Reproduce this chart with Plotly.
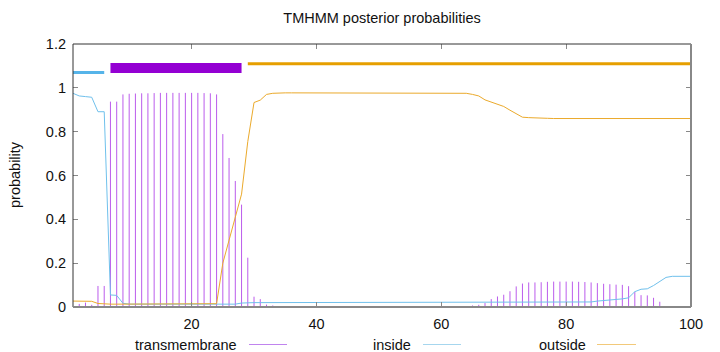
import plotly.graph_objects as go

# ---------------- data ----------------
positions = list(range(1, 101))

transmembrane = [
    0.000, 0.014, 0.020, 0.010, 0.096, 0.096, 0.937, 0.937, 0.970, 0.973,
    0.974, 0.975, 0.975, 0.976, 0.977, 0.977, 0.977, 0.977, 0.977, 0.977,
    0.977, 0.976, 0.975, 0.970, 0.789, 0.680, 0.575, 0.467, 0.225, 0.047,
    0.036, 0.011, 0.007, 0.004, 0.003, 0.002, 0.002, 0.002, 0.002, 0.002,
    0.002, 0.002, 0.002, 0.002, 0.002, 0.002, 0.001, 0.001, 0.001, 0.001,
    0.001, 0.001, 0.001, 0.001, 0.001, 0.001, 0.001, 0.001, 0.001, 0.001,
    0.002, 0.003, 0.003, 0.004, 0.007, 0.010, 0.018, 0.036, 0.048, 0.056,
    0.072, 0.094, 0.107, 0.112, 0.112, 0.113, 0.115, 0.116, 0.116, 0.116,
    0.116, 0.115, 0.114, 0.112, 0.109, 0.106, 0.104, 0.102, 0.101, 0.095,
    0.069, 0.054, 0.053, 0.042, 0.024, 0.003, 0.000, 0.000, 0.000, 0.000,
]

inside = [
    0.975, 0.963, 0.960, 0.957, 0.891, 0.891, 0.055, 0.053, 0.017, 0.013,
    0.013, 0.013, 0.013, 0.013, 0.013, 0.013, 0.013, 0.013, 0.013, 0.013,
    0.013, 0.013, 0.013, 0.013, 0.013, 0.013, 0.013, 0.018, 0.020, 0.020,
    0.020, 0.020, 0.020, 0.020, 0.020, 0.020, 0.020, 0.020, 0.020, 0.020,
    0.022, 0.023, 0.023, 0.023, 0.023, 0.023, 0.023, 0.023, 0.023, 0.023,
    0.023, 0.023, 0.023, 0.023, 0.023, 0.023, 0.023, 0.023, 0.023, 0.023,
    0.023, 0.023, 0.023, 0.023, 0.023, 0.023, 0.023, 0.023, 0.023, 0.023,
    0.023, 0.023, 0.023, 0.023, 0.023, 0.023, 0.023, 0.023, 0.023, 0.023,
    0.023, 0.023, 0.023, 0.023, 0.027, 0.029, 0.031, 0.034, 0.037, 0.042,
    0.070, 0.081, 0.083, 0.098, 0.118, 0.135, 0.140, 0.140, 0.140, 0.140,
]

outside = [
    0.027, 0.027, 0.027, 0.026, 0.016, 0.013, 0.013, 0.013, 0.013, 0.013,
    0.013, 0.013, 0.013, 0.013, 0.013, 0.013, 0.013, 0.013, 0.013, 0.013,
    0.013, 0.013, 0.013, 0.015, 0.200, 0.305, 0.410, 0.515, 0.755, 0.933,
    0.944, 0.970, 0.975, 0.977, 0.977, 0.977, 0.977, 0.977, 0.977, 0.977,
    0.977, 0.977, 0.977, 0.977, 0.977, 0.977, 0.977, 0.977, 0.977, 0.977,
    0.977, 0.977, 0.977, 0.977, 0.977, 0.977, 0.977, 0.977, 0.977, 0.977,
    0.977, 0.977, 0.976, 0.975, 0.970, 0.963, 0.945, 0.935, 0.928, 0.915,
    0.898, 0.880, 0.866, 0.864, 0.864, 0.862, 0.861, 0.860, 0.860, 0.860,
    0.860, 0.860, 0.860, 0.860, 0.860, 0.860, 0.860, 0.860, 0.860, 0.860,
    0.860, 0.860, 0.860, 0.860, 0.860, 0.860, 0.860, 0.860, 0.860, 0.860,
]

# predicted topology segments
seg_type = ["inside", "transmembrane", "outside"]
seg_start = [1, 7, 29]
seg_end = [6, 28, 100]

x_ticks = [20, 40, 60, 80, 100]
legend_labels = ["transmembrane", "inside", "outside"]

# ---------------- styles ----------------
FONT = "Liberation Sans, Arial, Helvetica, sans-serif"
FS = 14.5
C_TM = "#bb5cec"
C_IN = "#6fc0ec"
C_OUT = "#ebaa2c"
seg_style = {
    "inside": dict(level=1.07, color="#56b4e9", width=3),
    "transmembrane": dict(level=1.09, color="#9400d3", width=10),
    "outside": dict(level=1.11, color="#e69f00", width=3),
}

# plot area in pixels
L, R, T, B = 73, 691, 44, 307
W, H = 720, 352


def px(xp):
    return (xp - L) / (R - L)


def py(yp):
    return (B - yp) / (B - T)


fig = go.Figure()

# impulses for transmembrane probability
ix, iy = [], []
for xv, v in zip(positions, transmembrane):
    ix += [xv, xv, None]
    iy += [0, v, None]
fig.add_trace(go.Scatter(x=ix, y=iy, mode="lines",
                         line=dict(color=C_TM, width=1), hoverinfo="skip"))

fig.add_trace(go.Scatter(x=positions, y=inside, mode="lines",
                         line=dict(color=C_IN, width=1)))
fig.add_trace(go.Scatter(x=positions, y=outside, mode="lines",
                         line=dict(color=C_OUT, width=1)))

# topology segments on top
for t, s, e in zip(seg_type, seg_start, seg_end):
    st = seg_style[t]
    fig.add_trace(go.Scatter(x=[s, e], y=[st["level"], st["level"]], mode="lines",
                             line=dict(color=st["color"], width=st["width"])))

shapes = [
    # border
    dict(type="line", xref="paper", yref="paper", x0=0, x1=0, y0=0, y1=1,
         line=dict(color="#333333", width=1)),
    dict(type="line", xref="paper", yref="paper", x0=0, x1=1, y0=1, y1=1,
         line=dict(color="#333333", width=1)),
    dict(type="line", xref="paper", yref="paper", x0=0, x1=1, y0=0, y1=0,
         line=dict(color="#888888", width=2)),
    dict(type="line", xref="paper", yref="paper", x0=1, x1=1, y0=0, y1=1,
         line=dict(color="#888888", width=2)),
]

annotations = []
# custom legend (text followed by sample line, gnuplot style)
leg_text_right = [239, 413, 587.5]
leg_line_x = [(249, 287), (423, 461), (597, 636)]
leg_colors = ["#c084ee", "#a6d6ee", "#f2c97a"]
leg_y = 344.5
for lab, xr, (l0, l1), c in zip(legend_labels, leg_text_right, leg_line_x, leg_colors):
    annotations.append(dict(text=lab, xref="paper", yref="paper", x=px(xr), y=py(leg_y),
                            xanchor="right", yanchor="middle", showarrow=False,
                            font=dict(family=FONT, size=FS, color="#111111")))
    shapes.append(dict(type="line", xref="paper", yref="paper",
                       x0=px(l0), x1=px(l1), y0=py(leg_y), y1=py(leg_y),
                       line=dict(color=c, width=1)))

# y axis title
annotations.append(dict(text="probability", xref="paper", yref="paper",
                        x=px(15), y=py(175), textangle=-90, showarrow=False,
                        xanchor="center", yanchor="middle",
                        font=dict(family=FONT, size=FS, color="#111111")))

fig.update_layout(
    width=W, height=H,
    margin=dict(l=L, r=W - R, t=T, b=H - B, pad=0),
    paper_bgcolor="white", plot_bgcolor="white",
    showlegend=False,
    title=dict(text="TMHMM posterior probabilities", x=0.5, xref="paper",
               y=1 - 18 / H, yref="container", xanchor="center", yanchor="middle",
               font=dict(family=FONT, size=FS, color="#111111")),
    font=dict(family=FONT, size=FS, color="#111111"),
    shapes=shapes,
    annotations=annotations,
)
fig.update_xaxes(range=[1, 100], tickvals=x_ticks, ticks="inside", ticklen=5,
                 tickcolor="#888888", mirror="ticks", showline=False,
                 showgrid=False, zeroline=False, ticklabelstandoff=6)
fig.update_yaxes(range=[0, 1.2], dtick=0.2, tick0=0, ticks="inside", ticklen=5,
                 tickcolor="#888888", mirror="ticks", showline=False,
                 showgrid=False, zeroline=False, ticklabelstandoff=6)

fig.write_html("out.html")
